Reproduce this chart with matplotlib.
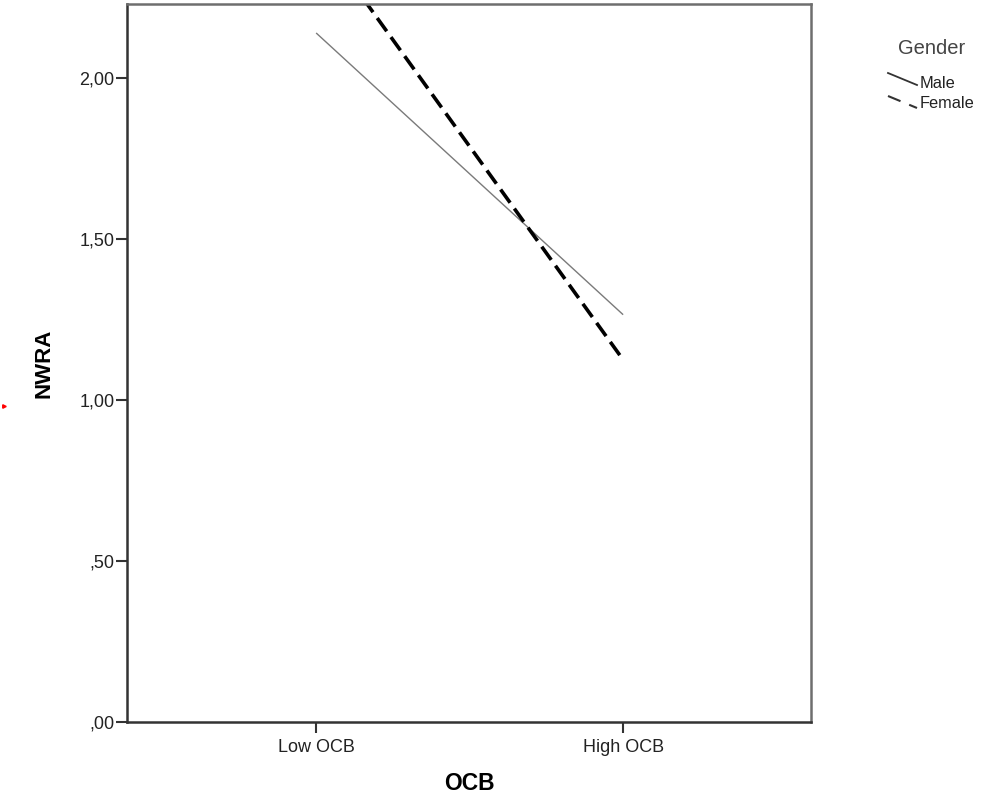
import matplotlib
matplotlib.use("Agg")
import matplotlib.pyplot as plt
from matplotlib.lines import Line2D

plt.rcParams['font.family'] = ['Liberation Sans', 'DejaVu Sans']

categories = ['Low OCB', 'High OCB']
male = [2.14, 1.265]
female = [2.45, 1.125]
y_ticks = [0.0, 0.5, 1.0, 1.5, 2.0]
y_tick_labels = [',00', ',50', '1,00', '1,50', '2,00']
legend_title = 'Gender'
legend_names = ['Male', 'Female']

fig = plt.figure(figsize=(9.81, 7.96), dpi=100)
ax = fig.add_axes([0.1295, 0.093, 0.6972, 0.902])

x = list(range(len(categories)))
ax.plot(x, male, color='#7a7a7a', lw=1.0, solid_capstyle='butt')
ax.plot(x, female, color='black', lw=2.6, dashes=(4.5, 2.0))

ax.set_xlim(-0.616, 1.612)
ax.set_ylim(0, 2.23)
ax.set_xticks(x)
ax.set_xticklabels(categories, fontsize=13)
ax.set_yticks(y_ticks)
ax.set_yticklabels(y_tick_labels, fontsize=13)
ax.tick_params(direction='out', length=8, width=1.5, color='#333333', labelcolor='#222222')
ax.tick_params(axis='y', pad=1)
ax.tick_params(axis='x', pad=4)

for side in ['left', 'bottom']:
    ax.spines[side].set_linewidth(1.8)
    ax.spines[side].set_color('#333333')
for side in ['top', 'right']:
    ax.spines[side].set_linewidth(1.8)
    ax.spines[side].set_color('#6e6e6e')

ax.set_xlabel('OCB', fontsize=16.5, fontweight='bold', labelpad=12)
ax.set_ylabel('NWRA', fontsize=16, fontweight='bold', labelpad=18)

# legend drawn by hand (SPSS style, diagonal line samples)
W, H = 981, 796
def fx(px):
    return px / W
def fy(py):
    return 1 - py / H

fig.text(fx(932), fy(49), legend_title, fontsize=14.5, color='#444444', ha='center', va='center')
fig.add_artist(Line2D([fx(888), fx(917)], [fy(73), fy(85)], color='#333333', lw=1.3))
fig.add_artist(Line2D([fx(888), fx(917)], [fy(96), fy(108)], color='#333333', lw=1.5,
                      dashes=(6.5, 4.5)))
fig.text(fx(920), fy(83), legend_names[0], fontsize=11.8, color='#222222', ha='left', va='center')
fig.text(fx(920), fy(103), legend_names[1], fontsize=11.8, color='#222222', ha='left', va='center')

# small red mark at left edge
fig.add_artist(Line2D([fx(4)], [fy(406)], marker='>', color='red', markersize=2.5, lw=0))

fig.savefig('out.png', dpi=100)
